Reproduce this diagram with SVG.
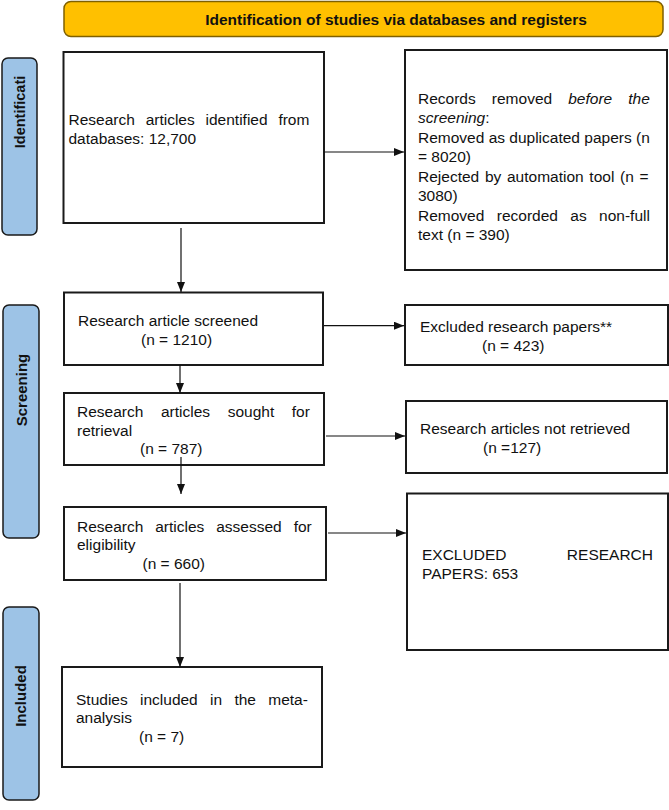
<svg xmlns="http://www.w3.org/2000/svg" width="669" height="810" viewBox="0 0 669 810">
<defs>
<style>
.box{fill:#fff;stroke:#1a1a1a;stroke-width:2}
.side{fill:#9DC3E6;stroke:#1a1a1a;stroke-width:1.5}
.hdr{fill:#FFC000;stroke:#7F6000;stroke-width:1.5}
.t{font-family:"Liberation Sans",Arial,sans-serif;font-size:15.5px;fill:#111}
.b{font-family:"Liberation Sans",Arial,sans-serif;font-weight:bold;fill:#111}
.c{fill:none;stroke:#111;stroke-width:1.2}
</style>
<marker id="ah" viewBox="0 0 10 8" refX="10" refY="4" markerWidth="10" markerHeight="8" markerUnits="userSpaceOnUse" orient="auto">
<path d="M0,0 L10,4 L0,8 Z" fill="#111"/>
</marker>
</defs>

<g id="header">
<rect class="hdr" x="64" y="1.5" width="599" height="35" rx="7"/>
<text class="b" x="396" y="25" font-size="15.5" text-anchor="middle">Identification of studies via databases and registers</text>
</g>

<g id="side-identification">
<rect class="side" x="2" y="58" width="35" height="177" rx="6"/>
<text class="b" font-size="14.5" text-anchor="middle" transform="translate(24.5,112) rotate(-90)">Identificati</text>
</g>
<g id="side-screening">
<rect class="side" x="3" y="305" width="36" height="233" rx="6"/>
<text class="b" font-size="15" text-anchor="middle" transform="translate(27,390) rotate(-90)">Screening</text>
</g>
<g id="side-included">
<rect class="side" x="3" y="607" width="36" height="193" rx="6"/>
<text class="b" font-size="15" text-anchor="middle" transform="translate(26,696) rotate(-90)">Included</text>
</g>

<g id="identified">
<rect class="box" x="63.5" y="52" width="260.5" height="171"/>
<text class="t" x="68.5" y="124.8" word-spacing="6.5">Research articles identified from</text>
<text class="t" x="68.5" y="143.8">databases: 12,700</text>
</g>

<g id="removed">
<rect class="box" x="405" y="50" width="262" height="220"/>
<text class="t" x="418" y="103.5" word-spacing="11.8">Records removed <tspan font-style="italic">before the</tspan></text>
<text class="t" x="418" y="123"><tspan font-style="italic">screening</tspan>:</text>
<text class="t" x="418" y="142.5">Removed as duplicated papers (n</text>
<text class="t" x="418" y="162">= 8020)</text>
<text class="t" x="418" y="181.5" word-spacing="1.4">Rejected by automation tool (n =</text>
<text class="t" x="418" y="201">3080)</text>
<text class="t" x="418" y="220.5" word-spacing="8.1">Removed recorded as non-full</text>
<text class="t" x="418" y="240">text (n = 390)</text>
</g>

<g id="screened">
<rect class="box" x="64" y="292.5" width="259" height="72.5"/>
<text class="t" x="78" y="326">Research article screened</text>
<text class="t" x="141" y="345">(n = 1210)</text>
</g>

<g id="excluded">
<rect class="box" x="405" y="305" width="263" height="60"/>
<text class="t" x="420" y="332">Excluded research papers**</text>
<text class="t" x="482" y="350.5">(n = 423)</text>
</g>

<g id="sought">
<rect class="box" x="64" y="393" width="260" height="72"/>
<text class="t" x="77" y="417" word-spacing="13.3">Research articles sought for</text>
<text class="t" x="77" y="435.5">retrieval</text>
<text class="t" x="140" y="453.5">(n = 787)</text>
</g>

<g id="not-retrieved">
<rect class="box" x="406" y="401" width="261" height="72"/>
<text class="t" x="420" y="433.5">Research articles not retrieved</text>
<text class="t" x="483" y="452.5">(n =127)</text>
</g>

<g id="assessed">
<rect class="box" x="64" y="507" width="262" height="73"/>
<text class="t" x="77" y="531.5" word-spacing="7.6">Research articles assessed for</text>
<text class="t" x="77" y="550">eligibility</text>
<text class="t" x="142.5" y="568.5">(n = 660)</text>
</g>

<g id="excluded-653">
<rect class="box" x="407" y="493.5" width="261" height="156.5"/>
<text class="t" x="422" y="559.5">EXCLUDED</text>
<text class="t" x="653" y="559.5" text-anchor="end">RESEARCH</text>
<text class="t" x="422" y="578.5">PAPERS: 653</text>
</g>

<g id="included">
<rect class="box" x="62" y="667" width="260" height="100"/>
<text class="t" x="76" y="704.5" word-spacing="8">Studies included in the meta-</text>
<text class="t" x="76" y="723">analysis</text>
<text class="t" x="139" y="742">(n = 7)</text>
</g>

<g id="connectors">
<line class="c" x1="324" y1="152" x2="404" y2="152" marker-end="url(#ah)"/>
<line class="c" x1="181" y1="228" x2="181" y2="292" marker-end="url(#ah)"/>
<line class="c" x1="324" y1="325.7" x2="404" y2="325.7" marker-end="url(#ah)"/>
<line class="c" x1="180" y1="365" x2="180" y2="393" marker-end="url(#ah)"/>
<line class="c" x1="326" y1="436" x2="405" y2="436" marker-end="url(#ah)"/>
<line class="c" x1="181" y1="457" x2="181" y2="494" marker-end="url(#ah)"/>
<line class="c" x1="328" y1="533" x2="406" y2="533" marker-end="url(#ah)"/>
<line class="c" x1="180" y1="583" x2="180" y2="667" marker-end="url(#ah)"/>
</g>
</svg>
